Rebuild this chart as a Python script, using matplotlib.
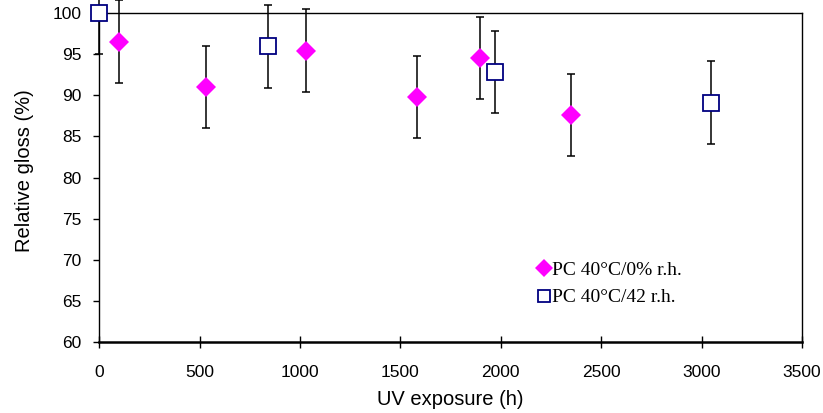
import numpy as np
import matplotlib
matplotlib.use('Agg')
import matplotlib.pyplot as plt

# PC 40°C/0% r.h.
x_dry = [100, 530, 1030, 1580, 1895, 2350]
y_dry = [96.5, 91.0, 95.4, 89.8, 94.5, 87.6]
err_dry = [5, 5, 5, 5, 5, 5]

# PC 40°C/42 r.h.
x_wet = [0, 840, 1970, 3045]
y_wet = [100.0, 95.9, 92.8, 89.1]
err_wet = [5, 5, 5, 5]

labels = ['PC 40°C/0% r.h.', 'PC 40°C/42 r.h.']
xticks = [0, 500, 1000, 1500, 2000, 2500, 3000, 3500]
yticks = [60, 65, 70, 75, 80, 85, 90, 95, 100]

plt.rcParams['font.family'] = ['Liberation Sans', 'DejaVu Sans']

fig = plt.figure(figsize=(8.23, 4.13), dpi=100, facecolor='white')
ax = fig.add_axes([0.1207, 0.171, 0.8538, 0.7983])

# error bars first, markers on top
ax.errorbar(x_dry, y_dry, yerr=err_dry, fmt='none', ecolor='black',
            elinewidth=1.1, capsize=3, capthick=1.1, clip_on=False, zorder=2)
ax.errorbar(x_wet, y_wet, yerr=err_wet, fmt='none', ecolor='black',
            elinewidth=1.1, capsize=3, capthick=1.1, clip_on=False, zorder=2)

ax.plot(x_dry, y_dry, 'D', color='#FF00FF', markersize=10.5, markeredgewidth=0,
        linestyle='none', label=labels[0], clip_on=False, zorder=3)
ax.plot(x_wet, y_wet, 's', markerfacecolor='white', markeredgecolor='#000080',
        markersize=11, markeredgewidth=1.3, linestyle='none', label=labels[1],
        clip_on=False, zorder=3)

ax.set_xlim(0, 3500)
ax.set_ylim(60, 100)
ax.set_xticks(xticks)
ax.set_yticks(yticks)

for s in ['top', 'right', 'left']:
    ax.spines[s].set_linewidth(1.0)
ax.spines['bottom'].set_linewidth(1.8)

ax.tick_params(axis='y', direction='out', length=4, width=1, pad=9, labelsize=12.5)
ax.tick_params(axis='x', direction='inout', length=8, width=1, pad=12, labelsize=12.5)

ax.set_xlabel('UV exposure (h)', fontsize=14.5)
ax.set_ylabel('Relative gloss (%)', fontsize=14.5)
ax.xaxis.set_label_coords(0.5, -0.145)
ax.yaxis.set_label_coords(-0.093, 0.52)

leg = ax.legend(loc='upper left', bbox_to_anchor=(0.61, 0.275), frameon=False,
                handlelength=0.6, handletextpad=0.15, borderpad=0, labelspacing=0.5,
                markerscale=0.85,
                prop={'family': 'Liberation Serif', 'size': 14})

fig.savefig('out.png', dpi=100, facecolor='white')
